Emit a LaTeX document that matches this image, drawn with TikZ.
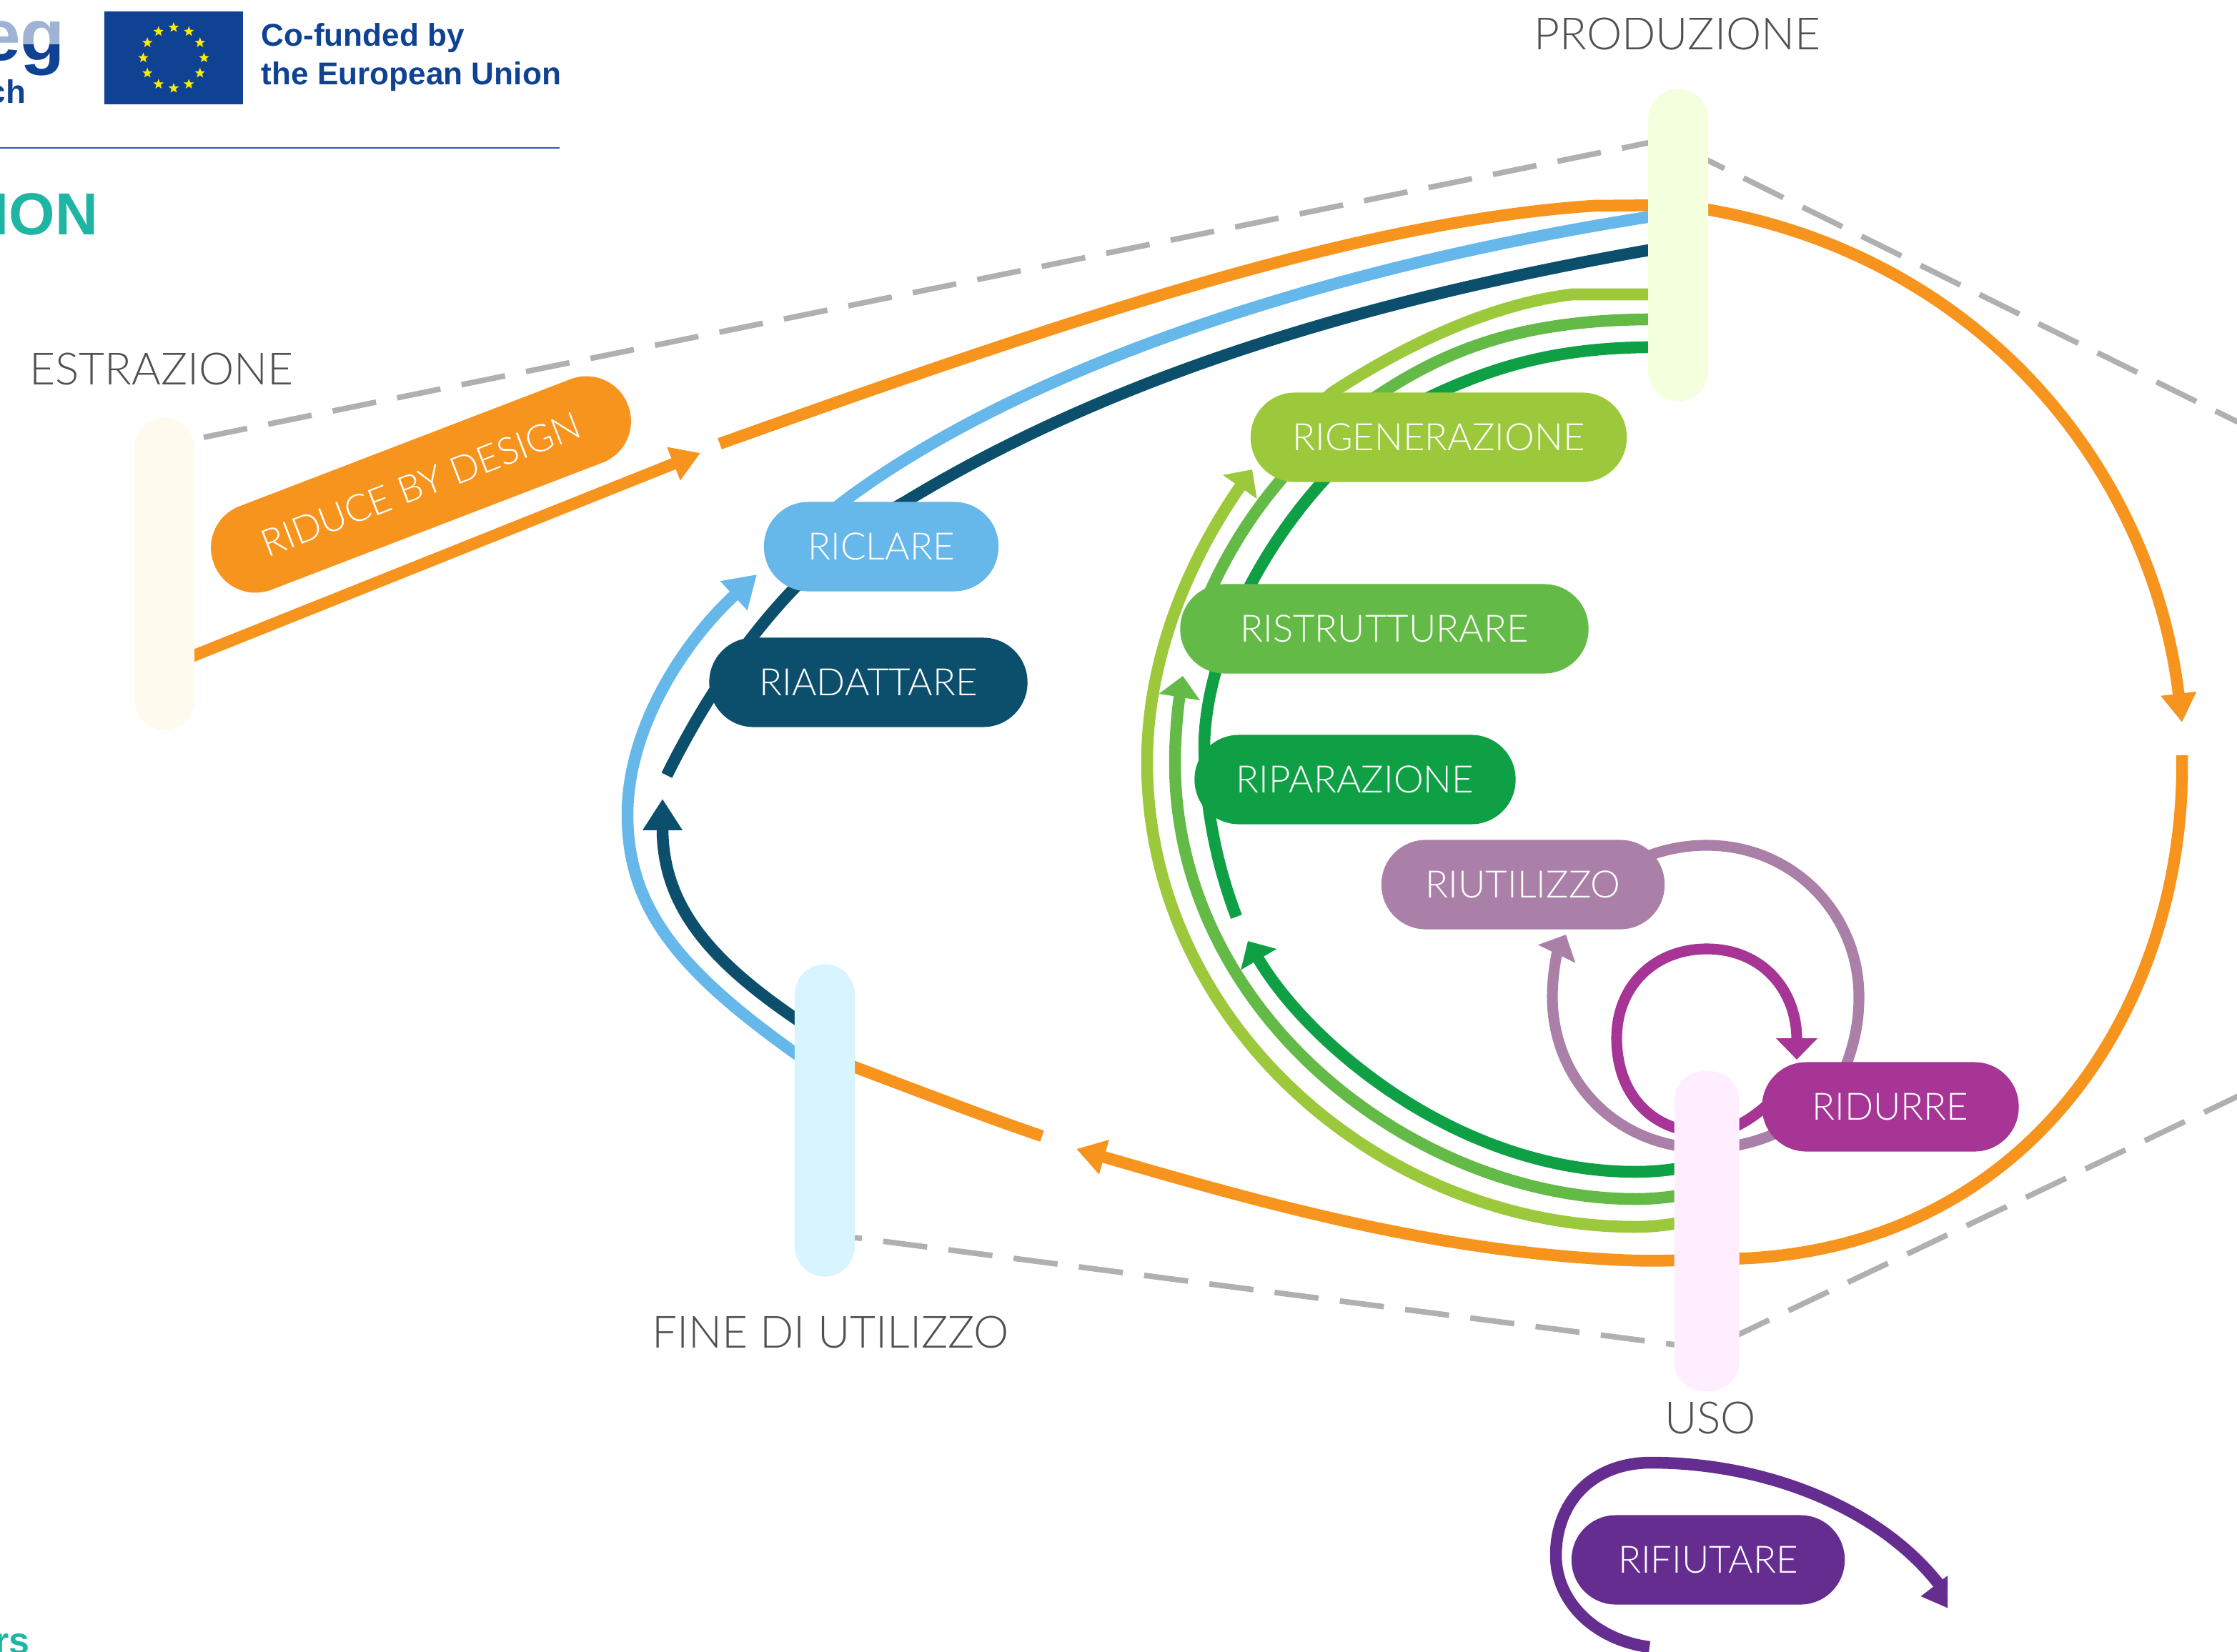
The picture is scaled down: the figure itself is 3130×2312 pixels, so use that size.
\documentclass[tikz,border=0pt]{standalone}
\usepackage{fontspec}
\setmainfont{Lato}[UprightFont=* Light]
\newfontfamily\logofont{Liberation Sans}[BoldFont=* Bold]
\usetikzlibrary{arrows.meta,shapes.geometric}
\definecolor{orangeC}{HTML}{F7941E}
\definecolor{blueC}{HTML}{66B7EA}
\definecolor{navyC}{HTML}{0B4F6C}
\definecolor{limeC}{HTML}{9BC93B}
\definecolor{midC}{HTML}{64BA46}
\definecolor{darkC}{HTML}{0FA046}
\definecolor{mauveC}{HTML}{AB80A8}
\definecolor{plumC}{HTML}{A63595}
\definecolor{violetC}{HTML}{662D91}
\definecolor{euC}{HTML}{104293}
\definecolor{tealC}{HTML}{1FB5A4}
\definecolor{textC}{HTML}{505050}
\definecolor{gapC}{HTML}{B0B0B0}
\definecolor{ruleC}{HTML}{2F5DA8}
\definecolor{estrC}{HTML}{FFFAEE}
\definecolor{prodC}{HTML}{F4FFDD}
\definecolor{fineC}{HTML}{D8F5FF}
\definecolor{usoC}{HTML}{FFEEFF}
\tikzset{
  flow/.style={line width=4.7pt},
  thin flow/.style={line width=4.3pt},
  tipA/.style={-{Triangle[length=11.5pt,width=13.5pt]}},
  tipB/.style={-{Triangle[length=8.5pt,width=16pt]}},
  tipC/.style={-{Triangle[length=12.5pt,width=15pt]}},
  phase/.style={rectangle,rounded corners=0.42cm,minimum width=0.84cm,minimum height=4.37cm,inner sep=0},
  pill/.style={rectangle,rounded corners=0.62cm,minimum height=1.25cm,inner sep=0,text=white,font=\fontsize{15}{18}\selectfont},
  stage/.style={text=textC,inner sep=0,font=\fontsize{17.7}{20}\selectfont},
  gap/.style={draw=gapC,line width=2.2pt,dash pattern=on 0.62cm off 0.30cm}
}
\begin{document}
\begin{tikzpicture}[x=0.01cm,y=-0.01cm]
\useasboundingbox (0,0) rectangle (3130,2312);

\fill[euC] (146,16) rectangle (340,146);
\foreach \a in {0,30,...,330}
  \node (star\a) [star,star points=5,star point ratio=2.4,fill=yellow!95!orange,inner sep=0,minimum size=0.15cm] at ({243+42.5*sin(\a)},{81-42.5*cos(\a)}) {};
\node (cofund) [anchor=west,align=left,inner sep=0,text=euC,font=\logofont\bfseries\fontsize{12.55}{15.4}\selectfont] at (365,80) {Co-funded by\\the European Union};
\draw[ruleC,line width=0.8pt] (0,207) -- (783,207);
\begin{scope}
\clip (0,0) rectangle (100,63);
\node (eglight) [anchor=base east,inner sep=0,text=euC!40,font=\logofont\bfseries\fontsize{29}{30}\selectfont] at (92,85) {eg};
\end{scope}
\begin{scope}
\clip (0,63) rectangle (100,115);
\node (egdark) [anchor=base east,inner sep=0,text=euC,font=\logofont\bfseries\fontsize{29}{30}\selectfont] at (92,85) {eg};
\end{scope}
\node (ch) [anchor=base east,inner sep=0,text=euC,font=\logofont\bfseries\fontsize{13}{15}\selectfont] at (37,145) {ch};
\node (ion) [anchor=base east,inner sep=0,text=tealC,font=\logofont\bfseries\fontsize{23.6}{26}\selectfont] at (138,328) {ION};
\node (rs) [anchor=base east,inner sep=0,text=tealC,font=\logofont\bfseries\fontsize{14.8}{16}\selectfont] at (42,2314) {rs};

\coordinate (estrGap) at (285,612);
\coordinate (prodGap) at (2330,195);
\coordinate (rightTop) at (3140,595);
\coordinate (rightLow) at (3140,1530);
\coordinate (usoGap) at (2390,1888);
\coordinate (fineGap) at (1196,1732);
\draw[gap] (estrGap) -- (prodGap) -- (rightTop);
\draw[gap] (rightLow) -- (usoGap) -- (fineGap);

\coordinate (estrOut) at (250,926);
\coordinate (designTip) at (980,634);
\coordinate (designOut) at (1007,621);
\coordinate (prodOr) at (2348,287);
\coordinate (useTip) at (3053,1011);
\coordinate (useOut) at (3053,1057);
\coordinate (usoOr) at (2388,1762);
\coordinate (endTip) at (1506,1608);
\coordinate (endOut) at (1458,1590);
\coordinate (fineOr) at (1150,1476);
\draw[flow,orangeC,tipA] (estrOut) -- (designTip);
\draw[flow,orangeC] (designOut) .. controls (1500,445) and (1900,310) .. (2230,288) -- (prodOr);
\draw[flow,orangeC,tipA] (prodOr) .. controls (2760,340) and (3010,650) .. (useTip);
\draw[flow,orangeC] (useOut) .. controls (3060,1400) and (2840,1770) .. (usoOr);
\draw[flow,orangeC,tipA] (usoOr) .. controls (2330,1765) and (2300,1765) .. (2260,1763) .. controls (2000,1750) and (1760,1682) .. (endTip);
\draw[flow,orangeC] (endOut) .. controls (1370,1560) and (1280,1525) .. (fineOr);

\coordinate (prodBl) at (2330,300);
\coordinate (riclIn) at (1120,750);
\coordinate (fineBl) at (1150,1500);
\coordinate (riclTip) at (1059,804);
\draw[flow,blueC] (prodBl) .. controls (1900,365) and (1450,500) .. (1180,702) -- (riclIn);
\draw[flow,blueC,tipC] (fineBl) .. controls (960,1370) and (878,1280) .. (878,1140) .. controls (878,1020) and (955,900) .. (riclTip);

\coordinate (prodNa) at (2330,346);
\coordinate (adaptEnd) at (933,1085);
\coordinate (fineNa) at (1150,1450);
\coordinate (adaptTip) at (927,1118);
\draw[flow,navyC] (prodNa) .. controls (1900,420) and (1550,530) .. (1267,702) .. controls (1125,780) and (1015,920) .. (adaptEnd);
\draw[flow,navyC,tipC] (fineNa) .. controls (1010,1360) and (927,1280) .. (adaptTip);

\coordinate (prodLi) at (2330,412);
\coordinate (usoLi) at (2388,1704);
\coordinate (regenTip) at (1752,657);
\draw[flow,limeC] (prodLi) -- (2200,412) .. controls (2090,425) and (1970,480) .. (1863,550) -- (1820,590);
\draw[flow,limeC,tipB] (usoLi) .. controls (2350,1712) and (2320,1717) .. (2289,1717) .. controls (1930,1717) and (1605,1430) .. (1605,1067) .. controls (1605,900) and (1680,760) .. (regenTip);

\coordinate (prodMi) at (2330,447);
\coordinate (restIn) at (1690,835);
\coordinate (usoMi) at (2388,1666);
\coordinate (restTip) at (1655,946);
\draw[flow,midC] (prodMi) .. controls (2150,445) and (2040,480) .. (1933,550) .. controls (1830,615) and (1745,710) .. (restIn);
\draw[flow,midC,tipB] (usoMi) .. controls (2350,1674) and (2320,1678) .. (2289,1678) .. controls (1980,1678) and (1644,1420) .. (1644,1067) .. controls (1644,1030) and (1648,990) .. (restTip);

\coordinate (prodDa) at (2330,486);
\coordinate (repEnd) at (1730,1283);
\coordinate (usoDa) at (2388,1628);
\coordinate (repTip) at (1746,1317);
\draw[flow,darkC] (prodDa) .. controls (2190,484) and (2100,510) .. (2012,550) .. controls (1840,630) and (1690,860) .. (1685,1040) .. controls (1685,1120) and (1700,1205) .. (repEnd);
\draw[flow,darkC,tipB] (usoDa) .. controls (2350,1636) and (2320,1640) .. (2289,1640) .. controls (2040,1640) and (1830,1460) .. (repTip);

\coordinate (reuseOut) at (2290,1205);
\coordinate (reuseTip) at (2191,1308);
\draw[thin flow,mauveC,tipB] (reuseOut) .. controls (2320,1190) and (2355,1183) .. (2388,1183) .. controls (2510,1183) and (2601,1280) .. (2601,1395) .. controls (2601,1430) and (2595,1465) .. (2575,1510) .. controls (2540,1570) and (2460,1607) .. (2388,1607) .. controls (2260,1607) and (2172,1510) .. (2172,1395) .. controls (2172,1365) and (2178,1335) .. (reuseTip);

\coordinate (redOut) at (2490,1530);
\coordinate (redTip) at (2514,1483);
\draw[thin flow,plumC,tipB] (redOut) .. controls (2450,1570) and (2420,1585) .. (2388,1585) .. controls (2310,1585) and (2262,1530) .. (2262,1453) .. controls (2262,1380) and (2315,1328) .. (2388,1328) .. controls (2465,1328) and (2514,1385) .. (redTip);

\begin{scope}
\clip (2100,2000) rectangle (2725,2312);
\coordinate (refOut) at (2308,2305);
\coordinate (refTip) at (2746,2260);
\draw[flow,violetC,-{Triangle[length=16pt,width=16pt]}] (refOut) .. controls (2230,2295) and (2177,2240) .. (2177,2177) .. controls (2177,2100) and (2230,2047) .. (2310,2047) .. controls (2470,2047) and (2630,2110) .. (refTip);
\end{scope}

\node (estr) [phase,fill=estrC] at (230,803) {};
\node (prod) [phase,fill=prodC] at (2348,343) {};
\node (fine) [phase,fill=fineC] at (1154,1568) {};
\node (uso) [phase,minimum width=0.91cm,minimum height=4.48cm,fill=usoC] at (2388,1723) {};

\node (estrL) [stage] at (226,516) {ESTRAZIONE};
\node (prodL) [stage] at (2347,47) {PRODUZIONE};
\node (fineL) [stage] at (1162,1864) {FINE DI UTILIZZO};
\node (usoL) [stage] at (2393,1984) {USO};

\node (design) [pill,fill=orangeC,minimum width=6.2cm,rotate=21] at (589,678) {RIDUCE BY DESIGN};
\node (recycle) [pill,fill=blueC,minimum width=3.28cm] at (1233,765) {RICLARE};
\node (adapt) [pill,fill=navyC,minimum width=4.45cm] at (1215,955) {RIADATTARE};
\node (regen) [pill,fill=limeC,minimum width=5.26cm] at (2013,612) {RIGENERAZIONE};
\node (rest) [pill,fill=midC,minimum width=5.71cm] at (1937,880) {RISTRUTTURARE};
\node (repair) [pill,fill=darkC,minimum width=4.49cm] at (1896,1091) {RIPARAZIONE};
\node (reuse) [pill,fill=mauveC,minimum width=3.96cm] at (2131,1238) {RIUTILIZZO};
\node (reduce) [pill,fill=plumC,minimum width=3.59cm] at (2645,1549) {RIDURRE};
\node (refuse) [pill,fill=violetC,minimum width=3.82cm] at (2390,2183) {RIFIUTARE};
\end{tikzpicture}
\end{document}
